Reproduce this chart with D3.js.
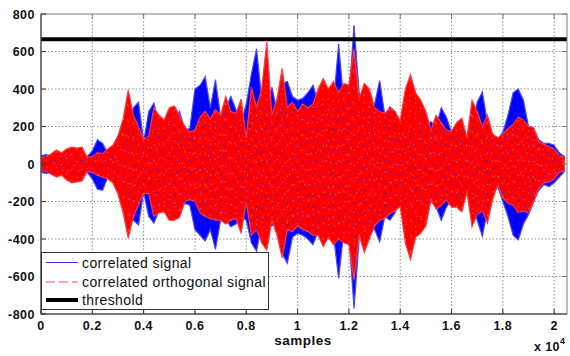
<!DOCTYPE html>
<html>
<head>
<meta charset="utf-8">
<script src="https://cdn.jsdelivr.net/npm/d3@7"></script>
<style>
  html, body { margin: 0; padding: 0; background: #fff; }
  svg { display: block; }
  text { font-family: Arial, "Liberation Sans", sans-serif; }
</style>
</head>
<body>
<svg id="chart" width="570" height="356"></svg>
<script>
// ---- data, one value every 200 samples ----
const sampleStep = 200;
const blueHi = [45,50,40,40,35,45,50,50,45,40, 70,130,110,60,70,60,120,200,300,330,
  120,280,325,200,220,270,240,280,180,190, 400,420,465,300,450,250,300,360,290,220,
  320,480,615,350,300,410,280,430,440,360, 340,350,380,420,330,320,300,330,640,330,
  350,740,380,300,280,320,445,260,305,280, 180,170,200,190,200,210,225,200,300,250,
  170,180,200,120,200,330,385,220,140,130, 170,260,380,400,340,200,190,130,110,110,
  100,60,40];
const blueLo = [-45,-50,-45,-40,-40,-45,-55,-60,-50,-45, -80,-135,-140,-70,-75,-70,-150,-230,-300,-325,
  -150,-280,-315,-250,-230,-280,-280,-270,-210,-220, -350,-380,-410,-350,-455,-300,-300,-335,-320,-280,
  -300,-420,-465,-320,-330,-330,-300,-480,-530,-390, -370,-380,-400,-430,-360,-350,-340,-380,-610,-360,
  -380,-770,-400,-350,-330,-350,-415,-280,-300,-260, -200,-200,-230,-220,-220,-230,-200,-230,-300,-230,
  -190,-200,-210,-140,-220,-300,-385,-250,-170,-120, -200,-280,-380,-405,-320,-270,-200,-140,-110,-120,
  -100,-70,-40];
const redHi = [35,40,55,75,60,80,90,85,90,35, 40,60,55,80,100,150,240,395,260,200,
  130,150,300,260,235,300,310,260,200,170, 180,250,280,240,290,260,360,280,270,345,
  140,410,300,400,650,260,350,510,300,330, 280,320,300,320,400,455,400,440,380,430,
  420,615,350,430,400,300,280,270,300,280, 230,400,475,380,340,280,180,260,220,180,
  175,220,245,140,340,280,200,260,160,140, 160,190,210,250,235,200,195,120,105,95,
  80,45,35];
const redLo = [-35,-40,-55,-70,-60,-85,-100,-95,-90,-40, -45,-60,-70,-80,-100,-160,-260,-395,-280,-220,
  -155,-160,-280,-260,-255,-300,-300,-285,-200,-190, -200,-260,-280,-290,-300,-300,-320,-300,-290,-370,
  -200,-380,-350,-420,-460,-300,-380,-500,-350,-360, -330,-350,-360,-380,-380,-440,-390,-430,-400,-420,
  -430,-620,-380,-470,-400,-330,-300,-290,-265,-250, -225,-420,-510,-390,-370,-330,-190,-240,-220,-190,
  -230,-230,-255,-150,-335,-270,-250,-315,-190,-110, -180,-210,-220,-260,-250,-260,-200,-130,-100,-95,
  -80,-45,-35];
const threshold = 665;
const xTicks = [0,2000,4000,6000,8000,10000,12000,14000,16000,18000,20000];
const xTickLabels = ["0","0.2","0.4","0.6","0.8","1","1.2","1.4","1.6","1.8","2"];
const yTicks = [-800,-600,-400,-200,0,200,400,600,800];
const legendLabels = ["correlated signal","correlated orthogonal signal","threshold"];

// ---- layout ----
const svg = d3.select("#chart");
const L = 41, R = 567, T = 14, B = 314;
const x = d3.scaleLinear().domain([0, 20500]).range([L, R]);
const y = d3.scaleLinear().domain([-800, 800]).range([B, T]);

const toPts = (hi, lo) => hi.map((h, i) => ({s: i * sampleStep, hi: h, lo: lo[i]}));
const blue = toPts(blueHi, blueLo);
const red = toPts(redHi, redLo);

svg.append("defs").append("clipPath").attr("id", "clip")
  .append("rect").attr("x", L).attr("y", T).attr("width", R - L).attr("height", B - T);

// grid
const grid = svg.append("g");
grid.selectAll("line.gx").data(xTicks.slice(1)).join("line")
  .attr("x1", d => x(d)).attr("x2", d => x(d)).attr("y1", T).attr("y2", B)
  .attr("stroke", "#6e6e6e").attr("stroke-width", 0.8).attr("stroke-dasharray", "1.5,2");
grid.selectAll("line.gy").data(yTicks.slice(1, -1)).join("line")
  .attr("y1", d => y(d)).attr("y2", d => y(d)).attr("x1", L).attr("x2", R)
  .attr("stroke", "#6e6e6e").attr("stroke-width", 0.8).attr("stroke-dasharray", "1.5,2");

const plot = svg.append("g").attr("clip-path", "url(#clip)");
const area = d3.area().x(d => x(d.s)).y0(d => y(d.lo)).y1(d => y(d.hi));
const zig = pts => {
  const out = [];
  pts.forEach(d => { out.push([x(d.s), y(d.hi)]); out.push([x(d.s), y(d.lo)]); });
  return d3.line()(out);
};

// blue signal
plot.append("path").attr("d", area(blue)).attr("fill", "#0000ff").attr("stroke", "#4a4aff").attr("stroke-width", 1.2);
// red orthogonal signal
plot.append("path").attr("d", area(red)).attr("fill", "#ff0000").attr("stroke", "#ff3a3a").attr("stroke-width", 1.2);
// interior texture: dashed traces
plot.append("path").attr("d", zig(blue)).attr("fill", "none").attr("stroke", "#2020e0")
  .attr("stroke-width", 0.8).attr("stroke-dasharray", "2,9").attr("opacity", 0.8);
plot.append("path").attr("d", zig(red)).attr("fill", "none").attr("stroke", "#ffb0b0")
  .attr("stroke-width", 0.6).attr("stroke-dasharray", "1.5,14").attr("opacity", 0.7);

// threshold
plot.append("line").attr("x1", L).attr("x2", R).attr("y1", y(threshold)).attr("y2", y(threshold))
  .attr("stroke", "#000").attr("stroke-width", 4);

// axes frame and ticks
const ax = svg.append("g");
ax.append("rect").attr("x", L).attr("y", T).attr("width", R - L).attr("height", B - T)
  .attr("fill", "none").attr("stroke", "#7a7a7a").attr("stroke-width", 1);
ax.append("line").attr("x1", L).attr("x2", L).attr("y1", T).attr("y2", B).attr("stroke", "#333");
ax.append("line").attr("x1", L).attr("x2", R).attr("y1", B).attr("y2", B).attr("stroke", "#333");
const tk = 5;
ax.selectAll("line.tb").data(xTicks).join("line")
  .attr("x1", d => x(d)).attr("x2", d => x(d)).attr("y1", B).attr("y2", B - tk).attr("stroke", "#333");
ax.selectAll("line.tt").data(xTicks).join("line")
  .attr("x1", d => x(d)).attr("x2", d => x(d)).attr("y1", T).attr("y2", T + tk).attr("stroke", "#7a7a7a");
ax.selectAll("line.tl").data(yTicks).join("line")
  .attr("y1", d => y(d)).attr("y2", d => y(d)).attr("x1", L).attr("x2", L + tk).attr("stroke", "#333");
ax.selectAll("line.tr").data(yTicks).join("line")
  .attr("y1", d => y(d)).attr("y2", d => y(d)).attr("x1", R).attr("x2", R - tk).attr("stroke", "#7a7a7a");

ax.selectAll("text.xl").data(xTicks).join("text")
  .attr("x", d => x(d)).attr("y", B + 16).attr("text-anchor", "middle")
  .attr("font-size", 12.5).attr("font-weight", "bold").attr("letter-spacing", 0.5).attr("fill", "#111")
  .text((d, i) => xTickLabels[i]);
ax.selectAll("text.yl").data(yTicks).join("text")
  .attr("x", L - 6).attr("y", d => y(d) + 4.5).attr("text-anchor", "end")
  .attr("font-size", 12.5).attr("font-weight", "bold").attr("letter-spacing", 0.5).attr("fill", "#111")
  .text(d => d);

svg.append("text").attr("x", 303).attr("y", 345).attr("text-anchor", "middle")
  .attr("font-size", 13.5).attr("font-weight", "bold").attr("letter-spacing", 0.5).attr("fill", "#111").text("samples");
const mult = svg.append("text").attr("x", 534).attr("y", 351)
  .attr("font-size", 12.5).attr("font-weight", "bold").attr("letter-spacing", 0.4).attr("fill", "#111");
mult.append("tspan").text("x 10");
mult.append("tspan").attr("dy", -7).attr("font-size", 9).text("4");

// legend
const lg = svg.append("g");
lg.append("rect").attr("x", 41.5).attr("y", 252.5).attr("width", 227).attr("height", 57)
  .attr("fill", "#fff").attr("stroke", "#333").attr("stroke-width", 1);
const lgStyles = [
  {stroke: "#3030ff", w: 1, dash: null},
  {stroke: "#ff5050", w: 1, dash: "9,4"},
  {stroke: "#000", w: 4, dash: null}
];
const lgY = [262.5, 282, 300];
legendLabels.forEach((lab, i) => {
  lg.append("line").attr("x1", 46).attr("x2", 78).attr("y1", lgY[i]).attr("y2", lgY[i])
    .attr("stroke", lgStyles[i].stroke).attr("stroke-width", lgStyles[i].w)
    .attr("stroke-dasharray", lgStyles[i].dash);
  lg.append("text").attr("x", 82).attr("y", lgY[i] + 5).attr("font-size", 14)
    .attr("letter-spacing", 0.4).attr("fill", "#111").text(lab);
});
</script>
</body>
</html>
